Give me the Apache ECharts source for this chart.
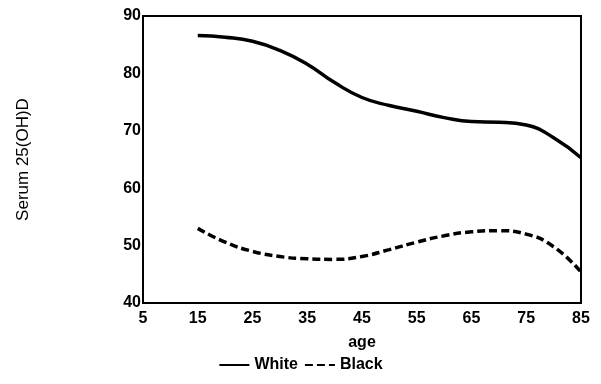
<!DOCTYPE html>
<html>
<head>
<meta charset="utf-8">
<script src="https://cdn.jsdelivr.net/npm/echarts@6/dist/echarts.min.js"></script>
<style>
  html, body { margin: 0; padding: 0; background: #fff; }
  #main { width: 601px; height: 384px; }
</style>
</head>
<body>
<div id="main"></div>
<script>
// ages and serum values
var ages = [15, 20, 25, 30, 35, 40, 45, 50, 55, 60, 65, 70, 75, 80, 85];
var white = [86.6, 86.3, 85.6, 84.0, 81.6, 78.4, 75.8, 74.4, 73.4, 72.3, 71.6, 71.5, 71.0, 68.8, 65.3];
var black = [53.0, 50.6, 49.0, 48.1, 47.7, 47.6, 48.1, 49.3, 50.6, 51.7, 52.4, 52.6, 52.0, 49.8, 45.4];

var myChart = echarts.init(document.getElementById('main'));

function pairs(ys) {
    var out = [];
    for (var i = 0; i < ages.length; i++) out.push([ages[i], ys[i]]);
    return out;
}

var font = 'Liberation Sans, Arial, sans-serif';

var option = {
    animation: false,
    grid: {
        left: 143, right: 20, top: 16, bottom: 81,
        show: true, borderColor: '#000', borderWidth: 2
    },
    xAxis: {
        type: 'value',
        min: 5, max: 85, interval: 10,
        name: 'age',
        nameLocation: 'middle',
        nameGap: 32,
        nameTextStyle: { color: '#000', fontSize: 16, fontWeight: 'bold', fontFamily: font },
        axisLine: { lineStyle: { color: '#000', width: 2 } },
        axisTick: { show: false },
        splitLine: { show: false },
        axisLabel: { color: '#000', fontSize: 16, fontWeight: 'bold', fontFamily: font, margin: 8 }
    },
    yAxis: {
        type: 'value',
        min: 40, max: 90, interval: 10,
        name: 'Serum 25(OH)D',
        nameLocation: 'middle',
        nameGap: 111,
        nameTextStyle: { color: '#000', fontSize: 17, fontFamily: font },
        axisLine: { show: true, lineStyle: { color: '#000', width: 2 } },
        axisTick: { show: false },
        splitLine: { show: false },
        axisLabel: { color: '#000', fontSize: 16, fontWeight: 'bold', fontFamily: font, margin: 2 }
    },
    legend: {
        bottom: 6,
        left: 'center',
        itemWidth: 30,
        itemHeight: 4,
        itemGap: 6,
        itemStyle: { opacity: 0 },
        textStyle: { color: '#000', fontSize: 16, fontWeight: 'bold', fontFamily: font },
        data: ['White', 'Black']
    },
    series: [
        {
            name: 'White',
            type: 'line',
            smooth: true,
            symbol: 'none',
            lineStyle: { color: '#000', width: 3.5 },
            itemStyle: { color: '#000' },
            data: pairs(white)
        },
        {
            name: 'Black',
            type: 'line',
            smooth: true,
            symbol: 'none',
            lineStyle: { color: '#000', width: 3.5, type: [8, 4] },
            itemStyle: { color: '#000' },
            data: pairs(black)
        }
    ]
};

option && myChart.setOption(option);
</script>
</body>
</html>
